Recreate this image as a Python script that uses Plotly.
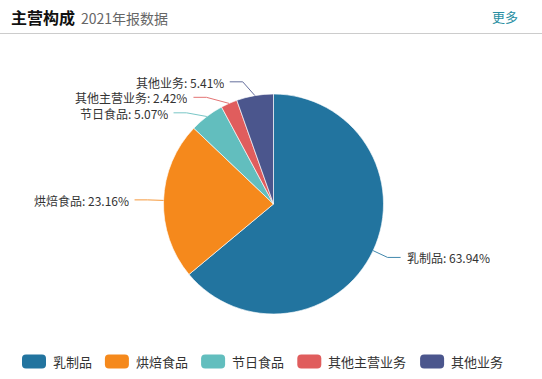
import math
import plotly.graph_objects as go

# ---- data ----
categories = ["乳制品", "烘焙食品", "节日食品", "其他主营业务", "其他业务"]
shares = [63.94, 23.16, 5.07, 2.42, 5.41]
colors = ["#22749F", "#F5891C", "#62BEBE", "#E05D5D", "#4B568D"]
title_main = "主营构成"
title_sub = "2021年报数据"
more_text = "更多"

W, H = 542, 379
FONT = "Noto Sans CJK SC, Microsoft YaHei, sans-serif"

# pie geometry (pixels)
cx, cy, r = 273.5, 204.0, 110.0


def px(x):
    return x / W


def py(y):
    return 1 - y / H


fig = go.Figure()
fig.add_trace(go.Pie(
    labels=categories,
    values=shares,
    sort=False,
    direction="clockwise",
    rotation=0,
    marker=dict(colors=colors, line=dict(color="rgba(255,255,255,0.8)", width=0.8)),
    textinfo="none",
    hoverinfo="label+percent",
    showlegend=False,
    domain=dict(x=[px(cx - r), px(cx + r)], y=[py(cy + r), py(cy - r)]),
))

shapes = []
annotations = []

# ---- outside labels with leader lines (ECharts-like) ----
total = sum(shares)
len1, len2, gap, min_sep = 16.0, 13.0, 4.0, 15.5
R2 = r + len1
labels = []
acc = 0.0
for name, v, c in zip(categories, shares, colors):
    mid = (acc + v / 2) / total * 2 * math.pi
    acc += v
    sx, sy = math.sin(mid), -math.cos(mid)
    ex, ey = cx + r * sx, cy + r * sy
    labels.append(dict(name=name, v=v, c=c, side=1 if sx >= 0 else -1,
                       ex=ex, ey=ey, ky=cy + R2 * sy, kx=cx + R2 * sx))

# avoid overlap on each side: push down from top
for side in (1, -1):
    grp = sorted([l for l in labels if l["side"] == side], key=lambda l: l["ky"])
    prev = None
    for l in grp:
        if prev is not None and l["ky"] < prev + min_sep:
            l["ky"] = prev + min_sep
        prev = l["ky"]
    # shift the stacked group slightly downward like ECharts balancing
    if len(grp) > 2:
        for l in grp[:-1]:
            l["ky"] += 2.0
    for l in grp:
        dy = l["ky"] - cy
        l["kx"] = cx + side * math.sqrt(max(R2 ** 2 - dy ** 2, 0))

for l in labels:
    hx = l["kx"] + l["side"] * len2
    shapes.append(dict(
        type="path", xref="paper", yref="paper",
        path=f"M {px(l['ex'])} {py(l['ey'])} L {px(l['kx'])} {py(l['ky'])} L {px(hx)} {py(l['ky'])}",
        line=dict(color=l["c"], width=1), opacity=0.85,
    ))
    annotations.append(dict(
        x=px(hx + l["side"] * gap), y=py(l["ky"]), xref="paper", yref="paper",
        text=f"{l['name']}: {l['v']:.2f}%", showarrow=False, height=14,
        xanchor="left" if l["side"] > 0 else "right", yanchor="middle",
        font=dict(family=FONT, size=12, color="#333333"),
    ))

# ---- header ----
annotations.append(dict(x=px(9), y=py(17), xref="paper", yref="paper", text=f"<b>{title_main}</b>",
                        showarrow=False, xanchor="left", yanchor="middle",
                        font=dict(family=FONT, size=16, color="#111111")))
annotations.append(dict(x=px(79), y=py(17.5), xref="paper", yref="paper", text=title_sub,
                        showarrow=False, xanchor="left", yanchor="middle",
                        font=dict(family=FONT, size=14, color="#666666")))
annotations.append(dict(x=px(520), y=py(17), xref="paper", yref="paper", text=more_text,
                        showarrow=False, xanchor="right", yanchor="middle",
                        font=dict(family=FONT, size=13, color="#2A8FA3")))
shapes.append(dict(type="line", xref="paper", yref="paper", x0=0, x1=1, y0=py(33.5), y1=py(33.5),
                   line=dict(color="#CCCCCC", width=1)))

# ---- custom legend ----
lx, ly = 22.0, 361.5
rw, rh, rr = 24.0, 14.0, 4.0
char_w = 13.3
for name, c in zip(categories, colors):
    x0, x1 = lx, lx + rw
    y0, y1 = ly - rh / 2, ly + rh / 2
    path = (f"M {px(x0 + rr)} {py(y0)} L {px(x1 - rr)} {py(y0)} "
            f"Q {px(x1)} {py(y0)} {px(x1)} {py(y0 + rr)} L {px(x1)} {py(y1 - rr)} "
            f"Q {px(x1)} {py(y1)} {px(x1 - rr)} {py(y1)} L {px(x0 + rr)} {py(y1)} "
            f"Q {px(x0)} {py(y1)} {px(x0)} {py(y1 - rr)} L {px(x0)} {py(y0 + rr)} "
            f"Q {px(x0)} {py(y0)} {px(x0 + rr)} {py(y0)} Z")
    shapes.append(dict(type="path", xref="paper", yref="paper", path=path,
                       fillcolor=c, line=dict(width=0)))
    tx = x1 + 5
    annotations.append(dict(x=px(tx), y=py(ly), xref="paper", yref="paper", text=name,
                            showarrow=False, xanchor="left", yanchor="middle",
                            font=dict(family=FONT, size=13, color="#333333")))
    lx = tx + len(name) * char_w + 14

fig.update_layout(
    width=W, height=H,
    margin=dict(l=0, r=0, t=0, b=0),
    paper_bgcolor="white", plot_bgcolor="white",
    shapes=shapes, annotations=annotations,
    showlegend=False,
)

fig.write_html("out.html", config={"displayModeBar": False},
               post_script="document.body.style.margin='0';")
